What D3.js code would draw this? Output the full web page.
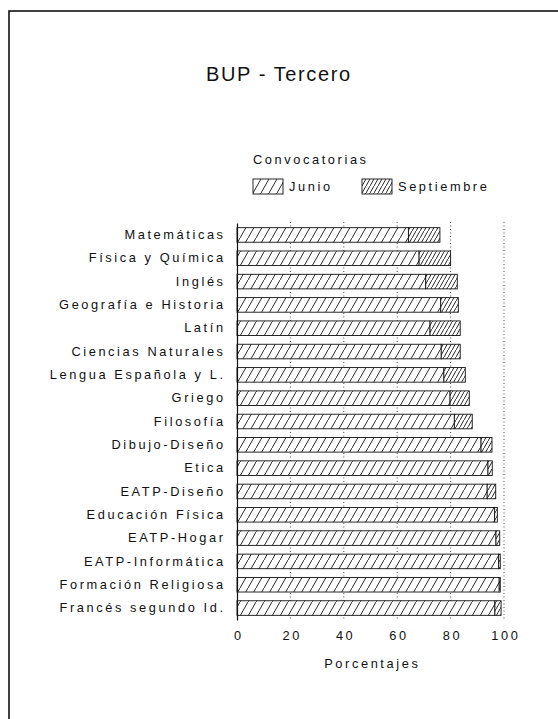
<!DOCTYPE html>
<html>
<head>
<meta charset="utf-8">
<script src="https://cdn.jsdelivr.net/npm/d3@7"></script>
<style>
  body { margin: 0; background: #fff; }
  text { font-family: "Liberation Sans", Arial, sans-serif; fill: #111; }
</style>
</head>
<body>
<svg id="chart" width="558" height="719"></svg>
<script>
// subjects, top to bottom
var asignaturas = ["Matemáticas", "Física y Química", "Inglés", "Geografía e Historia",
  "Latín", "Ciencias Naturales", "Lengua Española y L.", "Griego", "Filosofía",
  "Dibujo-Diseño", "Etica", "EATP-Diseño", "Educación Física", "EATP-Hogar",
  "EATP-Informática", "Formación Religiosa", "Francés segundo Id."];

// % passed in June
var junio = [64.2, 68.2, 70.7, 76.3, 72.3, 76.5, 77.5, 79.8, 81.4,
  91.4, 94.0, 93.7, 96.5, 97.0, 98.0, 98.2, 96.6];

// extra % passed in September (stacked on June)
var septiembre = [11.8, 11.8, 11.8, 6.6, 11.3, 7.1, 8.0, 7.2, 6.7,
  4.1, 1.6, 3.2, 1.0, 1.4, 0.6, 0.4, 2.3];

var ticks = [0, 20, 40, 60, 80, 100];

var ls = 2.6; // wide letter spacing of the original lettering

var svg = d3.select("#chart");

// hatch patterns
var defs = svg.append("defs");
function hatch(id, w, h) {
  var p = defs.append("pattern")
      .attr("id", id)
      .attr("patternUnits", "userSpaceOnUse")
      .attr("width", w)
      .attr("height", h);
  p.append("rect").attr("width", w).attr("height", h).attr("fill", "#fff");
  p.append("line")
      .attr("x1", 0).attr("y1", h)
      .attr("x2", w).attr("y2", 0)
      .attr("stroke", "#111")
      .attr("stroke-width", 0.9);
}
hatch("hJunio", 8, 14);
hatch("hSept", 4, 7);

// frame
svg.append("rect")
    .attr("x", 9).attr("y", 11)
    .attr("width", 560).attr("height", 720)
    .attr("fill", "none")
    .attr("stroke", "#111")
    .attr("stroke-width", 1.6);

// title
svg.append("text")
    .attr("x", 278 + 0.8).attr("y", 74)
    .attr("dy", "0.35em")
    .attr("text-anchor", "middle")
    .style("font-size", "20px")
    .style("letter-spacing", "1.6px")
    .text("BUP - Tercero");

// legend
svg.append("text")
    .attr("x", 253).attr("y", 160)
    .attr("dy", "0.35em")
    .style("font-size", "12.8px")
    .style("letter-spacing", ls + "px")
    .text("Convocatorias");

var leyenda = [
  { nombre: "Junio", fill: "url(#hJunio)", x: 253 },
  { nombre: "Septiembre", fill: "url(#hSept)", x: 362 }
];
var lg = svg.selectAll(".ley").data(leyenda).enter().append("g")
    .attr("class", "ley")
    .attr("transform", function(d) { return "translate(" + d.x + ",179)"; });
lg.append("rect")
    .attr("width", 30).attr("height", 15)
    .attr("fill", function(d) { return d.fill; })
    .attr("stroke", "#111")
    .attr("stroke-width", 0.9);
lg.append("text")
    .attr("x", 36).attr("y", 8)
    .attr("dy", "0.35em")
    .style("font-size", "12.8px")
    .style("letter-spacing", ls + "px")
    .text(function(d) { return d.nombre; });

// scales
var x = d3.scaleLinear().domain([0, 100]).range([237, 504]);
var y = d3.scaleBand().domain(asignaturas)
    .range([223, 620])
    .paddingInner(0.375)
    .paddingOuter(0.2);

// dotted grid
svg.selectAll(".grid").data(ticks.slice(1)).enter().append("line")
    .attr("class", "grid")
    .attr("x1", function(d) { return x(d); })
    .attr("x2", function(d) { return x(d); })
    .attr("y1", 222).attr("y2", 620)
    .attr("stroke", "#333")
    .attr("stroke-width", 0.9)
    .attr("stroke-dasharray", "1,2.5");

// bars
var filas = asignaturas.map(function(a, i) {
  return { nombre: a, jun: junio[i], sep: septiembre[i] };
});

var barras = svg.selectAll(".fila").data(filas).enter().append("g")
    .attr("class", "fila");

barras.append("rect")
    .attr("x", x(0))
    .attr("y", function(d) { return y(d.nombre); })
    .attr("width", function(d) { return x(d.jun) - x(0); })
    .attr("height", y.bandwidth())
    .attr("fill", "url(#hJunio)")
    .attr("stroke", "#111")
    .attr("stroke-width", 0.9);

barras.append("rect")
    .attr("x", function(d) { return x(d.jun); })
    .attr("y", function(d) { return y(d.nombre); })
    .attr("width", function(d) { return x(d.jun + d.sep) - x(d.jun); })
    .attr("height", y.bandwidth())
    .attr("fill", "url(#hSept)")
    .attr("stroke", "#111")
    .attr("stroke-width", 0.9);

// axes
var ejeY = svg.append("g")
    .attr("transform", "translate(" + x(0) + ",0)")
    .call(d3.axisLeft(y).tickSize(0).tickSizeOuter(0).tickPadding(14 - ls));
ejeY.select(".domain").attr("stroke", "#111").attr("stroke-width", 1.2);
ejeY.selectAll("text")
    .attr("fill", "#111")
    .style("font-family", "'Liberation Sans', Arial, sans-serif")
    .style("font-size", "12.8px")
    .style("letter-spacing", ls + "px");

var ejeX = svg.append("g")
    .attr("transform", "translate(0,620)")
    .call(d3.axisBottom(x).tickValues(ticks).tickSize(0).tickPadding(11));
ejeX.select(".domain").remove();
ejeX.selectAll("text")
    .attr("fill", "#111")
    .attr("dx", (ls / 2) + "px")
    .style("font-family", "'Liberation Sans', Arial, sans-serif")
    .style("font-size", "12.8px")
    .style("letter-spacing", ls + "px");

svg.append("text")
    .attr("x", 371 + ls / 2).attr("y", 664)
    .attr("dy", "0.35em")
    .attr("text-anchor", "middle")
    .style("font-size", "12.8px")
    .style("letter-spacing", ls + "px")
    .text("Porcentajes");
</script>
</body>
</html>
